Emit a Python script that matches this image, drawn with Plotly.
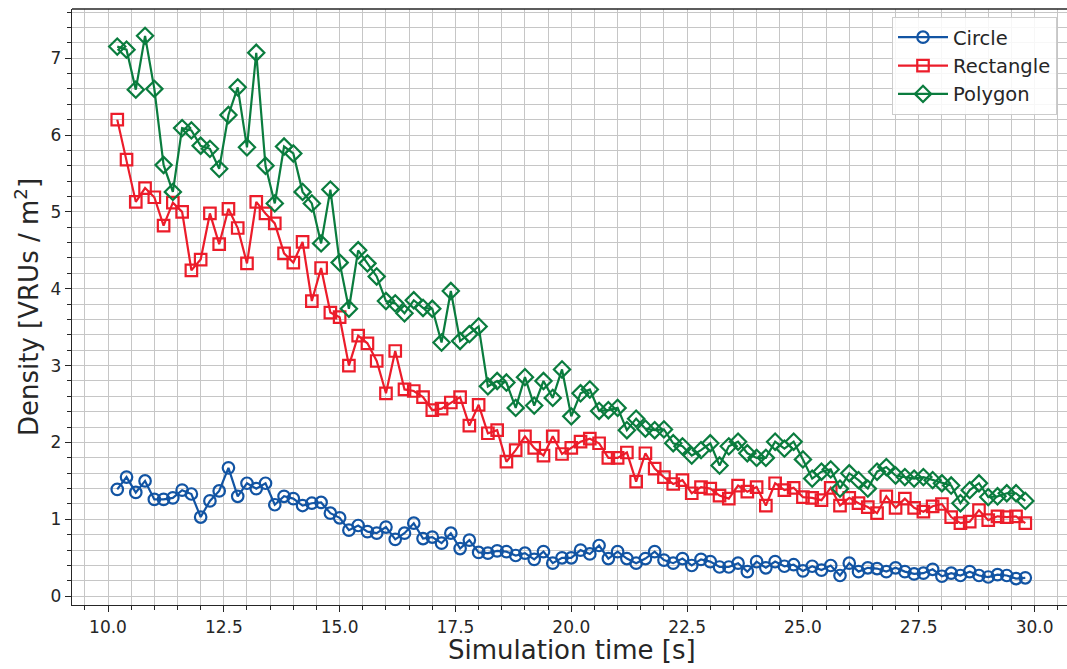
import plotly.graph_objects as go

time_s = [10.2, 10.4, 10.6, 10.8, 11.0, 11.2, 11.4, 11.6, 11.8, 12.0,
          12.2, 12.4, 12.6, 12.8, 13.0, 13.2, 13.4, 13.6, 13.8, 14.0,
          14.2, 14.4, 14.6, 14.8, 15.0, 15.2, 15.4, 15.6, 15.8, 16.0,
          16.2, 16.4, 16.6, 16.8, 17.0, 17.2, 17.4, 17.6, 17.8, 18.0,
          18.2, 18.4, 18.6, 18.8, 19.0, 19.2, 19.4, 19.6, 19.8, 20.0,
          20.2, 20.4, 20.6, 20.8, 21.0, 21.2, 21.4, 21.6, 21.8, 22.0,
          22.2, 22.4, 22.6, 22.8, 23.0, 23.2, 23.4, 23.6, 23.8, 24.0,
          24.2, 24.4, 24.6, 24.8, 25.0, 25.2, 25.4, 25.6, 25.8, 26.0,
          26.2, 26.4, 26.6, 26.8, 27.0, 27.2, 27.4, 27.6, 27.8, 28.0,
          28.2, 28.4, 28.6, 28.8, 29.0, 29.2, 29.4, 29.6, 29.8]

circle = [1.39, 1.55, 1.35, 1.50, 1.26, 1.26, 1.28, 1.38, 1.33, 1.03,
          1.24, 1.37, 1.67, 1.30, 1.47, 1.40, 1.47, 1.19, 1.30, 1.27,
          1.18, 1.21, 1.22, 1.08, 1.02,
          0.86, 0.92, 0.84, 0.82, 0.90, 0.74, 0.82, 0.95, 0.75, 0.77,
          0.69, 0.82, 0.62, 0.73, 0.57, 0.56, 0.59, 0.58, 0.53, 0.56,
          0.48, 0.58, 0.43,
          0.50, 0.50, 0.60, 0.55, 0.66, 0.49, 0.58, 0.49, 0.43, 0.49,
          0.58, 0.47, 0.43, 0.49, 0.40, 0.48, 0.45, 0.38, 0.38, 0.43,
          0.32, 0.45, 0.37, 0.45, 0.39, 0.41, 0.33,
          0.39, 0.34, 0.40, 0.27, 0.43, 0.32, 0.37, 0.36, 0.32, 0.37,
          0.32, 0.29, 0.30, 0.35, 0.26, 0.30, 0.27, 0.32, 0.27, 0.25,
          0.28, 0.27, 0.23, 0.24]

rectangle = [6.20, 5.68, 5.13, 5.31, 5.19, 4.82, 5.12, 5.00, 4.24, 4.38,
             4.98, 4.58, 5.04, 4.79, 4.33, 5.13, 4.98, 4.85, 4.46, 4.34,
             4.61, 3.84, 4.27, 3.69, 3.63,
             3.00, 3.39, 3.29, 3.06, 2.64, 3.19, 2.69, 2.67, 2.59, 2.42,
             2.44, 2.52, 2.59, 2.22, 2.49, 2.12, 2.16, 1.75, 1.90, 2.08,
             1.93, 1.83, 2.08, 1.85, 1.93,
             2.01, 2.05, 1.99, 1.80, 1.80, 1.87, 1.49, 1.86, 1.66, 1.55,
             1.46, 1.51, 1.34, 1.42, 1.40, 1.31, 1.27, 1.44, 1.36, 1.42,
             1.18, 1.47, 1.38, 1.41, 1.29,
             1.28, 1.25, 1.41, 1.18, 1.28, 1.21, 1.16, 1.08, 1.30, 1.15,
             1.27, 1.15, 1.10, 1.17, 1.20, 1.03, 0.95, 0.97, 1.12, 0.99,
             1.04, 1.03, 1.04, 0.95]

polygon = [7.15, 7.11, 6.59, 7.29, 6.60, 5.61, 5.26, 6.09, 6.06, 5.86,
           5.82, 5.56, 6.26, 6.62, 5.84, 7.07, 5.60, 5.11, 5.85, 5.76,
           5.26, 5.11, 4.59, 5.29, 4.34,
           3.74, 4.50, 4.33, 4.16, 3.84, 3.81, 3.68, 3.85, 3.75, 3.74,
           3.30, 3.97, 3.32, 3.41, 3.51, 2.73, 2.80, 2.78, 2.45, 2.85,
           2.48, 2.80, 2.58, 2.95, 2.34,
           2.64, 2.69, 2.41, 2.42, 2.45, 2.16, 2.31, 2.18, 2.16, 2.17,
           1.99, 1.95, 1.83, 1.90, 1.99, 1.70, 1.95, 2.01, 1.86, 1.80,
           1.80, 2.01, 1.92, 2.01, 1.78,
           1.53, 1.62, 1.65, 1.40, 1.60, 1.51, 1.40, 1.62, 1.68, 1.57,
           1.55, 1.53, 1.55, 1.51, 1.47, 1.44, 1.21, 1.38, 1.47, 1.29,
           1.30, 1.34, 1.34, 1.24]

x_ticks = [10.0, 12.5, 15.0, 17.5, 20.0, 22.5, 25.0, 27.5, 30.0]
x_tick_text = ["10.0", "12.5", "15.0", "17.5", "20.0", "22.5", "25.0", "27.5", "30.0"]
y_ticks = [0, 1, 2, 3, 4, 5, 6, 7]

FONT = "DejaVu Sans"
INK = "#262626"
GRID = "#c6c6c6"

series = [
    ("Circle", circle, "#1254a3", "circle-open", 11.5),
    ("Rectangle", rectangle, "#ec1c2a", "square-open", 11.5),
    ("Polygon", polygon, "#0a7c3e", "diamond-open", 12.5),
]

fig = go.Figure()
for name, vals, col, sym, sz in series:
    fig.add_trace(go.Scatter(
        x=time_s, y=vals, name=name, mode="lines+markers",
        line=dict(color=col, width=2.2),
        marker=dict(symbol=sym, size=sz, color=col, line=dict(color=col, width=2.2)),
    ))

axis_common = dict(
    showgrid=True, gridcolor=GRID, gridwidth=1.4,
    zeroline=False,
    showline=True, linecolor=INK, linewidth=1.3,
    ticks="outside", ticklen=6, tickwidth=1.3, tickcolor=INK,
    tickfont=dict(family=FONT, size=17, color=INK),
)

fig.update_layout(
    width=1067, height=669,
    margin=dict(l=72, r=0, t=9, b=64),
    paper_bgcolor="white", plot_bgcolor="white",
    showlegend=True,
    legend=dict(
        x=(892 - 72) / 995, y=1 - (17 - 9) / 596, xanchor="left", yanchor="top",
        bgcolor="rgba(255,255,255,0.85)", bordercolor="#cccccc", borderwidth=1,
        font=dict(family=FONT, size=19.5, color=INK),
        itemwidth=50, tracegroupgap=0,
    ),
    xaxis=dict(
        range=[9.223, 30.70],
        tickvals=x_ticks, ticktext=x_tick_text,
        minor=dict(dtick=0.5, tick0=0, showgrid=True, gridcolor=GRID, gridwidth=1.4,
                   ticks="outside", ticklen=3.5, tickcolor=INK, tickwidth=1),
        **axis_common,
    ),
    yaxis=dict(
        range=[-0.114, 7.639],
        tickvals=y_ticks,
        minor=dict(dtick=0.2, tick0=0, showgrid=True, gridcolor=GRID, gridwidth=1.4,
                   ticks="outside", ticklen=3.5, tickcolor=INK, tickwidth=1),
        **axis_common,
    ),
    shapes=[dict(type="line", xref="paper", yref="paper", x0=0, x1=1, y0=1, y1=1,
                 line=dict(color=INK, width=1.3))],
    annotations=[
        dict(text="Simulation time [s]", xref="paper", yref="paper",
             x=(571.5 - 72) / 995, y=0, yshift=-45, xanchor="center", yanchor="middle",
             showarrow=False, font=dict(family=FONT, size=26, color=INK)),
        dict(text="Density [VRUs / m<sup>2</sup>]", xref="paper", yref="paper",
             x=0, xshift=-45, y=(605 - 307) / 596, xanchor="center", yanchor="middle",
             textangle=-90, showarrow=False, font=dict(family=FONT, size=26, color=INK)),
    ],
)

fig.write_html("out.html")
